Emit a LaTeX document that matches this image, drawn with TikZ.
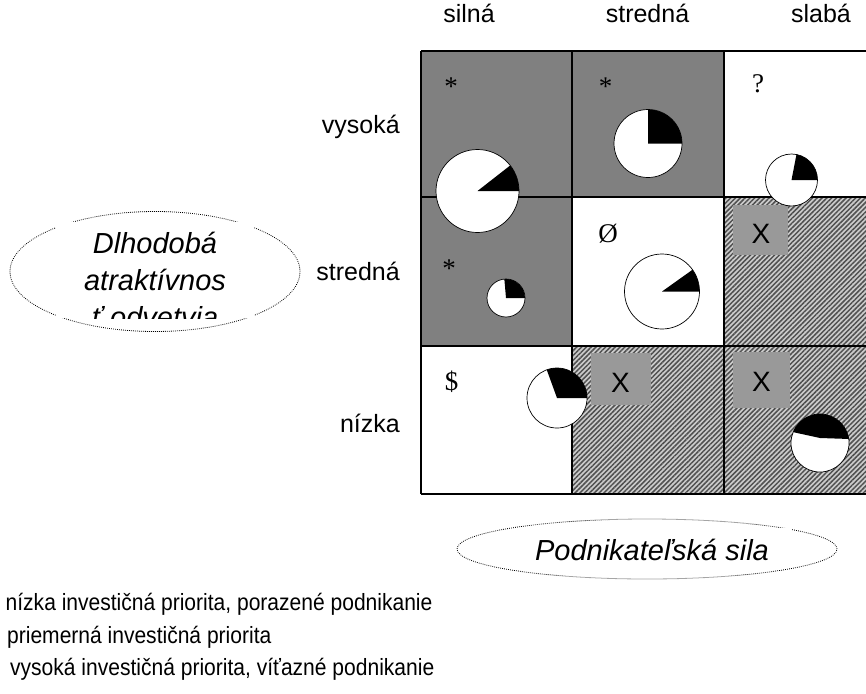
\documentclass[tikz,border=0pt]{standalone}
\usepackage{fontspec}
\setmainfont{Liberation Serif}
\newfontfamily\arialf{Liberation Sans}
\usetikzlibrary{patterns.meta}

\definecolor{cellgray}{HTML}{808080}
\definecolor{boxgray}{HTML}{999999}
\definecolor{hatchlight}{HTML}{CCCCCC}
\definecolor{hatchdark}{HTML}{505050}

\tikzset{
  graycell/.style={fill=cellgray},
  hatchcell/.style={preaction={fill=hatchlight},
    pattern={Lines[angle=45,distance=3.4pt,line width=1.5pt]},
    pattern color=hatchdark},
  xbox/.style={fill=boxgray},
  gridline/.style={draw=black, line width=1.4pt},
  pieline/.style={draw=black, line width=0.7pt},
  dotline/.style={draw=black, line width=0.8pt, dash pattern=on 0.8pt off 1.2pt},
  axislabel/.style={font=\arialf\fontsize{25}{30}\selectfont, inner sep=0pt},
  legendtext/.style={font=\arialf\fontsize{23.5}{28}\selectfont, inner sep=0pt,
    anchor=base west, xscale=0.895},
  titletext/.style={font=\arialf\itshape\fontsize{29}{37}\selectfont, inner sep=0pt, anchor=base},
  cellsym/.style={font=\fontsize{27}{32}\selectfont, inner sep=0pt, anchor=base},
  xmark/.style={font=\arialf\fontsize{28}{32}\selectfont, inner sep=0pt, anchor=base},
}

% pie: centre x, centre y, radius, end angle of the black sector
\newcommand\drawpie[4]{%
  \fill[white] (#1,#2) circle[radius=#3];
  \fill[black] (#1,#2) -- ++(0:#3) arc[start angle=0, end angle=#4, radius=#3] -- cycle;
  \draw[pieline] (#1,#2) circle[radius=#3];
}

\begin{document}
\begin{tikzpicture}[x=1pt, y=1pt]
\useasboundingbox (0,0) rectangle (866,-693);
\fill[white] (0,0) rectangle (866,-693);

% cell backgrounds
\fill[graycell] (421,-51) rectangle (572,-197);
\fill[graycell] (572,-51) rectangle (724,-197);
\fill[graycell] (421,-197) rectangle (572,-346);
\path[hatchcell] (724,-197) rectangle (866,-346);
\path[hatchcell] (572,-346) rectangle (724,-494);
\path[hatchcell] (724,-346) rectangle (866,-494);

% grid
\draw[gridline] (421,-51) -- (866,-51);
\draw[gridline] (421,-197) -- (866,-197);
\draw[gridline] (421,-346) -- (866,-346);
\draw[gridline] (421,-494) -- (866,-494);
\draw[gridline] (421,-51) -- (421,-494);
\draw[gridline] (572,-51) -- (572,-494);
\draw[gridline] (724,-51) -- (724,-494);

% grey boxes with X
\fill[xbox] (733,-205) rectangle (788,-255);
\fill[xbox] (591,-353) rectangle (651,-405);
\fill[xbox] (733,-352) rectangle (790,-408);
\node[xmark] (x23) at (761,-243) {X};
\node[xmark] (x32) at (620.5,-392) {X};
\node[xmark] (x33) at (761.5,-391) {X};

% cell symbols
\node[cellsym] (s11) at (451,-95.5) {*};
\node[cellsym] (s12) at (605.5,-95.5) {*};
\node[cellsym] (s13) at (758,-92.5) {?};
\node[cellsym] (s21) at (449,-277) {*};
\node[cellsym] (s22) at (608,-242) {Ø};
\node[cellsym] (s31) at (451.5,-390) {\$};

% pies
\drawpie{477.5}{-191}{41.5}{38}
\drawpie{648}{-143.5}{34}{90}
\drawpie{791.5}{-180}{26}{79}
\drawpie{506}{-298}{19}{95}
\drawpie{662}{-291.5}{37.5}{35.5}
\drawpie{557}{-398}{30}{110}
\fill[white] (820,-443) circle[radius=29];
\fill[black] (820,-438) -- ([shift={(8:29)}]820,-443) arc[start angle=8, end angle=158, radius=29] -- cycle;
\draw[pieline] (820,-443) circle[radius=29];

% column and row labels
\node[axislabel, anchor=base] (c1) at (469,-23) {silná};
\node[axislabel, anchor=base] (c2) at (647.5,-23) {stredná};
\node[axislabel, anchor=base] (c3) at (821,-23) {slabá};
\node[axislabel, anchor=base east] (r1) at (400,-133) {vysoká};
\node[axislabel, anchor=base east] (r2) at (400,-280) {stredná};
\node[axislabel, anchor=base east] (r3) at (400,-432) {nízka};

% vertical axis title
\draw[dotline] (155,-271.5) ellipse[x radius=145, y radius=60];
\fill[white] (56,-222) rectangle (254,-318);
\begin{scope}
  \clip (56,-222) rectangle (254,-318);
  \node[titletext] (ya1) at (155,-253) {Dlhodobá};
  \node[titletext] (ya2) at (155,-290) {atraktívnos};
  \node[titletext] (ya3) at (155,-327) {ť odvetvia};
\end{scope}

% horizontal axis title
\draw[dotline] (647,-549) ellipse[x radius=190, y radius=30];
\fill[white] (520,-528) rectangle (792,-568);
\node[titletext] (xa) at (652,-560) {Podnikateľská sila};

% legend
\node[legendtext] (l1) at (5.5,-610) {nízka investičná priorita, porazené podnikanie};
\node[legendtext] (l2) at (7,-643) {priemerná investičná priorita};
\node[legendtext] (l3) at (10,-675) {vysoká investičná priorita, víťazné podnikanie};
\end{tikzpicture}
\end{document}
